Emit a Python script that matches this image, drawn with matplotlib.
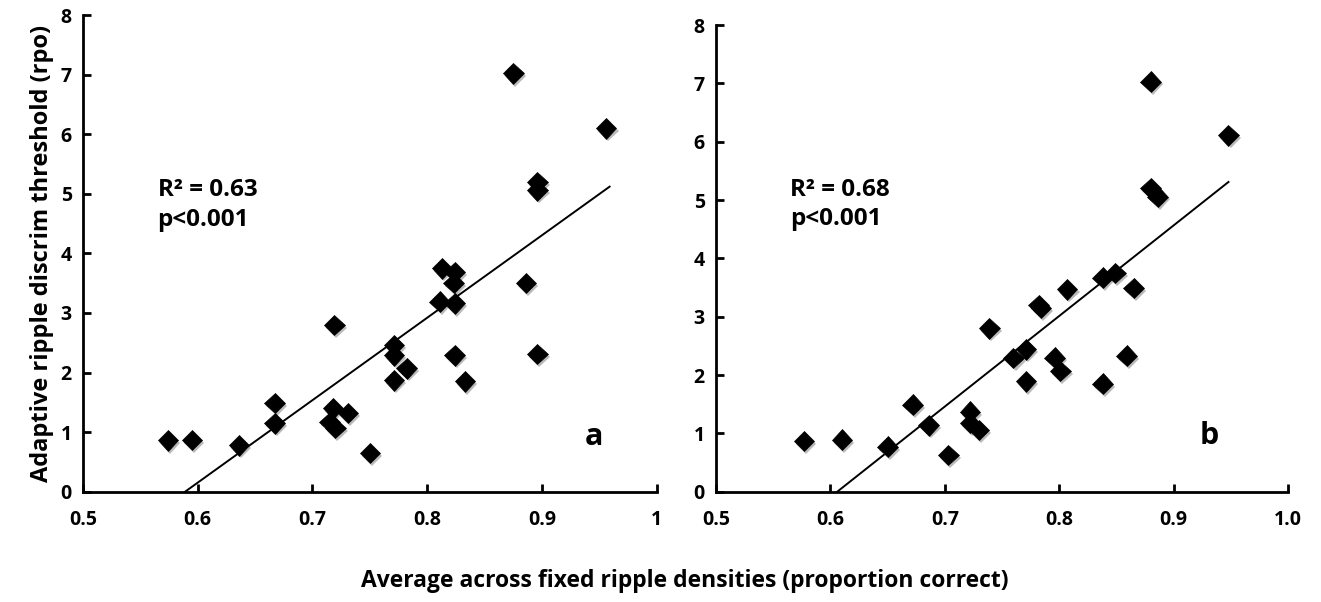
import numpy as np
import matplotlib
matplotlib.use('Agg')
import matplotlib.pyplot as plt
import matplotlib.patheffects as pe

plt.rcParams['font.family'] = ['Open Sans', 'DejaVu Sans']

# panel a: fixed-density average vs adaptive threshold
a_x = [0.574, 0.595, 0.636, 0.667, 0.667, 0.719, 0.718, 0.731, 0.715, 0.720,
       0.750, 0.771, 0.771, 0.771, 0.782, 0.813, 0.824, 0.823, 0.811, 0.824,
       0.824, 0.833, 0.875, 0.886, 0.896, 0.896, 0.896, 0.956]
a_y = [0.86, 0.87, 0.78, 1.49, 1.15, 2.80, 1.40, 1.32, 1.17, 1.07,
       0.65, 2.46, 2.29, 1.87, 2.07, 3.75, 3.69, 3.50, 3.19, 3.16,
       2.29, 1.85, 7.02, 3.50, 5.20, 5.06, 2.31, 6.10]
a_fit_x = [0.589, 0.959]
a_fit_y = [0.0, 5.12]

# panel b
b_x = [0.577, 0.610, 0.650, 0.672, 0.686, 0.703, 0.722, 0.722, 0.730, 0.739,
       0.760, 0.771, 0.771, 0.782, 0.784, 0.796, 0.801, 0.807, 0.838, 0.849,
       0.865, 0.838, 0.859, 0.880, 0.880, 0.886, 0.948]
b_y = [0.87, 0.89, 0.77, 1.49, 1.14, 0.63, 1.37, 1.18, 1.06, 2.80,
       2.29, 2.44, 1.89, 3.20, 3.15, 2.30, 2.07, 3.47, 3.67, 3.75,
       3.49, 1.85, 2.33, 7.03, 5.20, 5.06, 6.11]
b_fit_x = [0.606, 0.948]
b_fit_y = [0.0, 5.31]

a_ticks = [0.5, 0.6, 0.7, 0.8, 0.9, 1.0]
a_ticklabels = ['0.5', '0.6', '0.7', '0.8', '0.9', '1']
b_ticklabels = ['0.5', '0.6', '0.7', '0.8', '0.9', '1.0']
y_ticks = [0, 1, 2, 3, 4, 5, 6, 7, 8]

fig = plt.figure(figsize=(13.21, 6.02), dpi=100)
ax_a = fig.add_axes([0.0628, 0.1832, 0.4343, 0.7918])
ax_b = fig.add_axes([0.542, 0.1832, 0.433, 0.7752])

shadow = [pe.SimplePatchShadow(offset=(1.5, -2), shadow_rgbFace='0.4', alpha=0.45), pe.Normal()]

panels = [
    (ax_a, a_x, a_y, a_fit_x, a_fit_y, a_ticklabels, 'R² = 0.63', 'a', (0.565, 4.81), (0.945, 0.92)),
    (ax_b, b_x, b_y, b_fit_x, b_fit_y, b_ticklabels, 'R² = 0.68', 'b', (0.565, 4.92), (0.931, 0.95)),
]

for ax, xs, ys, fx, fy, xtl, r2, letter, txt_pos, let_pos in panels:
    ax.plot(fx, fy, color='black', lw=1.4, zorder=2)
    ax.plot(xs, ys, linestyle='none', marker='D', markersize=10.5, color='black',
            markeredgewidth=0.5, zorder=3, path_effects=shadow)
    ax.set_xlim(0.5, 1.0)
    ax.set_ylim(0, 8)
    ax.set_xticks(a_ticks)
    ax.set_xticklabels(xtl)
    ax.set_yticks(y_ticks)
    for s in ['top', 'right']:
        ax.spines[s].set_visible(False)
    for s in ['left', 'bottom']:
        ax.spines[s].set_linewidth(2)
    ax.tick_params(direction='in', length=6, width=2, labelsize=14, pad=8)
    ax.tick_params(axis='x', pad=13)
    ax.text(txt_pos[0], txt_pos[1], r2 + '\np<0.001', fontsize=17.5, fontweight='bold',
            ha='left', va='center', linespacing=1.3)
    ax.text(let_pos[0], let_pos[1], letter, fontsize=22, fontweight='bold',
            ha='center', va='center')
    for lab in ax.get_xticklabels() + ax.get_yticklabels():
        lab.set_fontweight('bold')

ax_a.set_ylabel('Adaptive ripple discrim threshold (rpo)', fontsize=17, fontweight='bold', labelpad=5)
fig.text(0.518, 0.035, 'Average across fixed ripple densities (proportion correct)',
         fontsize=16.5, fontweight='bold', ha='center', va='center')

fig.savefig('out.png', dpi=100)
